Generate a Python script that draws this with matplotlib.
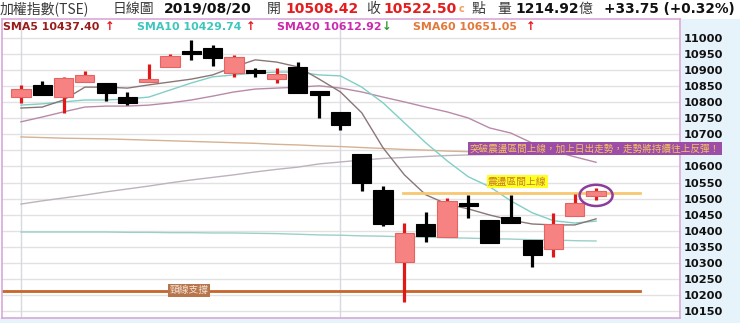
import matplotlib
matplotlib.use('Agg')
import matplotlib.pyplot as plt
from matplotlib.patches import Rectangle, Ellipse

# candles (oldest first)
opens  = [10816, 10854, 10816, 10863, 10860, 10816, 10863, 10910, 10958, 10969,
          10891, 10897, 10872, 10910, 10831, 10770, 10639, 10527, 10303, 10421,
          10381, 10485, 10433, 10443, 10371, 10343, 10446, 10508.42]
highs  = [10854, 10866, 10879, 10897, 10860, 10832, 10919, 10950, 10994, 10978,
          10947, 10907, 10907, 10925, 10835, 10770, 10639, 10539, 10424, 10458,
          10502, 10511, 10433, 10511, 10371, 10455, 10514, 10534]
lows   = [10798, 10823, 10767, 10863, 10804, 10791, 10863, 10910, 10932, 10913,
          10879, 10879, 10860, 10829, 10751, 10714, 10524, 10415, 10178, 10365,
          10381, 10440, 10362, 10424, 10287, 10318, 10446, 10496]
closes = [10841, 10823, 10875, 10885, 10829, 10798, 10872, 10944, 10950, 10938,
          10941, 10892, 10888, 10829, 10826, 10729, 10549, 10421, 10393, 10384,
          10493, 10480, 10362, 10424, 10324, 10421, 10486, 10522.50]

sma5  = [10782, 10785, 10807, 10847, 10847, 10844, 10854, 10863, 10872, 10885,
         10910, 10932, 10925, 10910, 10872, 10832, 10767, 10658, 10574, 10512,
         10483, 10468, 10449, 10433, 10421, 10418, 10418, 10437]
sma10 = [10791, 10795, 10801, 10807, 10807, 10810, 10816, 10838, 10860, 10879,
         10885, 10891, 10894, 10894, 10885, 10882, 10847, 10798, 10736, 10674,
         10618, 10568, 10537, 10493, 10456, 10431, 10424, 10430]
sma20 = [10739, 10754, 10770, 10785, 10788, 10788, 10791, 10798, 10807, 10819,
         10832, 10841, 10844, 10847, 10851, 10844, 10832, 10816, 10801, 10785,
         10770, 10751, 10720, 10704, 10673, 10648, 10630, 10613]
sma60 = [10692, 10690, 10688, 10687, 10686, 10684, 10682, 10680, 10678, 10676,
         10674, 10672, 10669, 10667, 10664, 10662, 10659, 10656, 10653, 10651,
         10648, 10646, 10646, 10647, 10648, 10649, 10650, 10651]
sma_long = [10483, 10493, 10502, 10511, 10521, 10530, 10539, 10549, 10558, 10566,
            10574, 10583, 10591, 10598, 10608, 10614, 10620, 10625, 10628, 10631,
            10634, 10636, 10637, 10639, 10640, 10642, 10644, 10645]
sma_flat = [10396, 10396, 10396, 10396, 10396, 10395, 10395, 10394, 10394, 10393,
            10393, 10392, 10391, 10389, 10387, 10386, 10384, 10383, 10381, 10380,
            10378, 10377, 10375, 10374, 10372, 10371, 10369, 10368]

y_ticks = list(range(10150, 11001, 50))
neckline = 10212
range_top = 10517

W, H = 740, 323
fig = plt.figure(figsize=(W / 100, H / 100), dpi=100)
fig.patch.set_facecolor('white')

def fx(x):
    return x / W

def fy(y):
    return 1 - y / H

cjk = ['Noto Sans CJK TC', 'DejaVu Sans']

# light blue strips for the price scale and the bottom
fig.add_artist(Rectangle((fx(681), 0), 1 - fx(681), fy(19), transform=fig.transFigure,
                         facecolor='#E6F3FB', edgecolor='none', zorder=-5))
fig.add_artist(Rectangle((0, 0), 1, fy(318), transform=fig.transFigure,
                         facecolor='#E6F3FB', edgecolor='none', zorder=-5))

ax = fig.add_axes([fx(2), fy(318), fx(680) - fx(2), fy(19) - fy(318)])
ax.set_xlim(-0.89, 30.94)
ax.set_ylim(10128.3, 11059.1)
for s in ax.spines.values():
    s.set_color('#D9A8D9')
    s.set_linewidth(1.2)

for v in y_ticks:
    ax.axhline(v, color='#E2E2E2', lw=1, zorder=0)
ax.axvline(0, color='#D5DADF', lw=1, zorder=0)
ax.axvline(15, color='#D5DADF', lw=1, zorder=0)

ax.set_xticks([])
ax.yaxis.tick_right()
ax.set_yticks(y_ticks)
ax.set_yticklabels([str(v) for v in y_ticks], fontsize=8.2, fontweight='bold', color='#111111')
ax.tick_params(axis='y', length=0, pad=3)

xs = list(range(len(closes)))

# moving averages
ax.plot(xs, sma_flat, color='#9CCFC8', lw=1, zorder=1)
ax.plot(xs, sma_long, color='#BDB3BD', lw=1, zorder=1)
ax.plot(xs, sma60, color='#D4B294', lw=1, zorder=1)
ax.plot(xs, sma20, color='#B98AA8', lw=1, zorder=1)
ax.plot(xs, sma10, color='#80CFC6', lw=1, zorder=1)
ax.plot(xs, sma5, color='#8A7676', lw=1, zorder=1)

# support / range lines
ax.plot([-0.9, 29.05], [neckline - 4, neckline - 4], color='#F6DFC4', lw=1.2, zorder=1)
ax.plot([-0.9, 29.05], [neckline, neckline], color='#C6652C', lw=2, zorder=1)
ax.plot([17.95, 29.05], [range_top, range_top], color='#F8C771', lw=2, zorder=1)

# candles
min_body = 10
for i in xs:
    o, h, l, c = opens[i], highs[i], lows[i], closes[i]
    up = c >= o
    wick = '#E01818' if up else 'black'
    ax.vlines(i, l, h, color=wick, lw=2.3, zorder=3)
    bottom = min(o, c)
    height = max(abs(c - o), min_body)
    if abs(c - o) < min_body:
        bottom = (o + c) / 2 - min_body / 2
    if up:
        ax.bar(i, height, width=0.9, bottom=bottom, color='#F68282',
               edgecolor='#E46464', linewidth=0.8, zorder=4)
    else:
        ax.bar(i, height, width=0.9, bottom=bottom, color='black',
               edgecolor='black', linewidth=0.8, zorder=4)

ax.add_patch(Ellipse((27, 10510), 1.55, 66, facecolor='none', edgecolor='#8C3D9C',
                     lw=1.8, zorder=6))

# notes
ax.text(7.9, neckline + 3, '頸線支撐', fontsize=7, color='#F4E6DA', family=cjk,
        ha='center', va='center', zorder=7,
        bbox=dict(boxstyle='square,pad=0.15', facecolor='#B8744A', edgecolor='none'))
ax.text(23.3, range_top + 36, '震盪區間上線', fontsize=7, color='#C4782E', family=cjk,
        ha='center', va='center', zorder=7,
        bbox=dict(boxstyle='square,pad=0.15', facecolor='#FFFF22', edgecolor='none'))
ax.text(26.95, 10655, '突破震盪區間上線，加上日出走勢，走勢將持續往上反彈！', fontsize=6.9,
        color='#F6C25E', family=cjk, ha='center', va='center', zorder=10, clip_on=False,
        bbox=dict(boxstyle='square,pad=0.2', facecolor='#9B4DA8', edgecolor='none'))

# header line
hy = fy(9)
gray = '#3A3A3A'
fig.text(fx(0), hy, '加權指數(TSE)', fontsize=10, color=gray, family=cjk, va='center')
fig.text(fx(113), hy, '日線圖', fontsize=10, color=gray, family=cjk, va='center')
fig.text(fx(164), hy, '2019/08/20', fontsize=10, fontweight='bold', color='#111111', va='center')
fig.text(fx(267), hy, '開', fontsize=10, color=gray, family=cjk, va='center')
fig.text(fx(285), hy, '10508.42', fontsize=10, fontweight='bold', color='#E41E1E', va='center')
fig.text(fx(366), hy, '收', fontsize=10, color=gray, family=cjk, va='center')
fig.text(fx(383), hy, '10522.50', fontsize=10, fontweight='bold', color='#E41E1E', va='center')
fig.text(fx(459), hy, 'c', fontsize=7, fontweight='bold', color='#F0A060', va='center')
fig.text(fx(472), hy, '點', fontsize=10, color=gray, family=cjk, va='center')
fig.text(fx(497), hy, '量', fontsize=10, color=gray, family=cjk, va='center')
fig.text(fx(515), hy, '1214.92', fontsize=10, fontweight='bold', color='#111111', va='center')
fig.text(fx(579), hy, '億', fontsize=10, color=gray, family=cjk, va='center')
fig.text(fx(604), hy, '+33.75 (+0.32%)', fontsize=9.8, fontweight='bold', color='#111111', va='center')

# moving average legend
ly = fy(27)
legend = [
    (3, 'SMA5 10437.40', '#9A1C1C', 105, '↑', '#E8141E'),
    (137, 'SMA10 10429.74', '#3EC6BE', 246, '↑', '#E8141E'),
    (277, 'SMA20 10612.92', '#CC2AAE', 382, '↓', '#2E9A2E'),
    (413, 'SMA60 10651.05', '#E2783A', 526, '↑', '#E8141E'),
]
for x0, label, col, xa, arrow, acol in legend:
    fig.text(fx(x0), ly, label, fontsize=7.9, fontweight='bold', color=col, va='center')
    fig.text(fx(xa), ly, arrow, fontsize=8.3, fontweight='bold', color=acol, va='center')

fig.savefig('out.png', dpi=100)
